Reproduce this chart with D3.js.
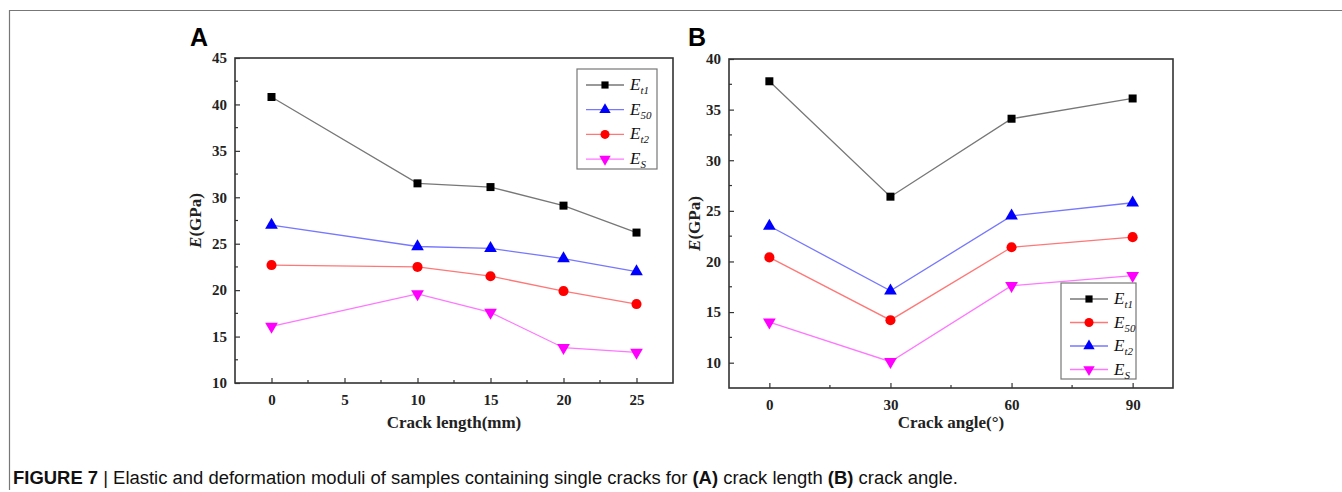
<!DOCTYPE html>
<html>
<head>
<meta charset="utf-8">
<script src="https://cdn.jsdelivr.net/npm/d3@7"></script>
<style>
  body { margin: 0; background: #fff; }
  svg { display: block; }
</style>
</head>
<body>
<script>
// panel A: crack length
var lengths = [0, 10, 15, 20, 25];
var aEt1 = [40.8, 31.5, 31.1, 29.1, 26.2];
var aE50 = [27.0, 24.7, 24.5, 23.4, 22.0];
var aEt2 = [22.7, 22.5, 21.5, 19.9, 18.5];
var aEs  = [16.1, 19.6, 17.6, 13.8, 13.3];
var lengthTicks = [0, 5, 10, 15, 20, 25];
var aYTicks = [10, 15, 20, 25, 30, 35, 40, 45];

// panel B: crack angle
var angles = [0, 30, 60, 90];
var bEt1 = [37.8, 26.4, 34.1, 36.1];
var bE50 = [20.4, 14.2, 21.4, 22.4];
var bEt2 = [23.5, 17.1, 24.5, 25.8];
var bEs  = [14.0, 10.1, 17.6, 18.6];
var angleTicks = [0, 30, 60, 90];
var bYTicks = [10, 15, 20, 25, 30, 35, 40];

var svg = d3.select("body").append("svg")
  .attr("width", 1342)
  .attr("height", 492);

// outer frame (top + left line)
svg.append("path")
  .attr("d", "M9.5,490 V10.5 H1342")
  .attr("fill", "none")
  .attr("stroke", "#777")
  .attr("stroke-width", 1.2);

var styles = {
  square: { sym: d3.symbolSquare, size: 64, rot: 0 },
  up:     { sym: d3.symbolTriangle, size: 70, rot: 0 },
  circle: { sym: d3.symbolCircle, size: 80, rot: 0 },
  down:   { sym: d3.symbolTriangle, size: 70, rot: 180 }
};

function drawPanel(opt) {
  var x = d3.scaleLinear().domain(opt.xDomain).range([opt.left, opt.right]);
  var y = d3.scaleLinear().domain(opt.yDomain).range([opt.bottom, opt.top]);
  var g = svg.append("g");

  // panel letter
  g.append("text")
    .attr("x", opt.letterX).attr("y", 46)
    .attr("font-family", "Liberation Sans, Arial, sans-serif")
    .attr("font-weight", "bold")
    .attr("font-size", 25)
    .text(opt.letter);

  // minor ticks
  var xMinor = d3.range(opt.xTicks.length - 1).map(function (i) {
    return (opt.xTicks[i] + opt.xTicks[i + 1]) / 2;
  });
  var yMinor = d3.range(opt.yTicks.length - 1).map(function (i) {
    return (opt.yTicks[i] + opt.yTicks[i + 1]) / 2;
  });
  g.selectAll(".xminor").data(xMinor).enter().append("line")
    .attr("x1", d => x(d)).attr("x2", d => x(d))
    .attr("y1", opt.bottom).attr("y2", opt.bottom - 3)
    .attr("stroke", "#333").attr("stroke-width", 1.2);
  g.selectAll(".yminor").data(yMinor).enter().append("line")
    .attr("x1", opt.left).attr("x2", opt.left + 3)
    .attr("y1", d => y(d)).attr("y2", d => y(d))
    .attr("stroke", "#333").attr("stroke-width", 1.2);

  // major ticks via d3 axes (inward)
  var xAxis = g.append("g")
    .attr("transform", "translate(0," + opt.bottom + ")")
    .call(d3.axisBottom(x).tickValues(opt.xTicks).tickSizeInner(-5).tickSizeOuter(0).tickPadding(11));
  var yAxis = g.append("g")
    .attr("transform", "translate(" + opt.left + ",0)")
    .call(d3.axisLeft(y).tickValues(opt.yTicks).tickSizeInner(-5).tickSizeOuter(0).tickPadding(8));
  [xAxis, yAxis].forEach(function (ax) {
    ax.select(".domain").remove();
    ax.selectAll(".tick line").attr("stroke", "#333").attr("stroke-width", 1.2);
    ax.selectAll(".tick text")
      .attr("font-family", "Liberation Serif, Times New Roman, serif")
      .attr("font-weight", "bold")
      .attr("font-size", 15)
      .attr("fill", "#222");
  });

  // frame
  g.append("rect")
    .attr("x", opt.left).attr("y", opt.top)
    .attr("width", opt.right - opt.left).attr("height", opt.bottom - opt.top)
    .attr("fill", "none").attr("stroke", "#333").attr("stroke-width", 1.6);

  // axis titles
  g.append("text")
    .attr("x", (opt.left + opt.right) / 2).attr("y", 428)
    .attr("text-anchor", "middle")
    .attr("font-family", "Liberation Serif, Times New Roman, serif")
    .attr("font-weight", "bold")
    .attr("font-size", 17)
    .attr("fill", "#222")
    .text(opt.xLabel);
  var yl = g.append("text")
    .attr("transform", "translate(" + opt.yLabelX + "," + ((opt.top + opt.bottom) / 2) + ") rotate(-90)")
    .attr("text-anchor", "middle")
    .attr("font-family", "Liberation Serif, Times New Roman, serif")
    .attr("font-weight", "bold")
    .attr("font-size", 17)
    .attr("fill", "#222");
  yl.append("tspan").attr("font-style", "italic").text("E");
  yl.append("tspan").text("(GPa)");

  // series
  var line = d3.line().x(d => x(d[0])).y(d => y(d[1]));
  opt.series.forEach(function (s) {
    var pts = opt.xs.map(function (v, i) { return [v, s.values[i]]; });
    g.append("path")
      .attr("d", line(pts))
      .attr("fill", "none")
      .attr("stroke", s.line)
      .attr("stroke-width", 1.3);
    var st = styles[s.marker];
    g.selectAll(null).data(pts).enter().append("path")
      .attr("d", d3.symbol().type(st.sym).size(st.size))
      .attr("transform", d => "translate(" + x(d[0]) + "," + y(d[1]) + ") rotate(" + st.rot + ")")
      .attr("fill", s.color);
  });

  // legend
  var lg = opt.legend;
  g.append("rect")
    .attr("x", lg.x).attr("y", lg.y)
    .attr("width", lg.w).attr("height", lg.h)
    .attr("fill", "#fff").attr("stroke", "#777").attr("stroke-width", 1.2);
  opt.series.forEach(function (s, i) {
    var cy = lg.y + 16 + i * lg.step;
    g.append("line")
      .attr("x1", lg.x + 9).attr("x2", lg.x + 47)
      .attr("y1", cy).attr("y2", cy)
      .attr("stroke", s.line).attr("stroke-width", 1.3);
    var st = styles[s.marker];
    g.append("path")
      .attr("d", d3.symbol().type(st.sym).size(st.size * 0.8))
      .attr("transform", "translate(" + (lg.x + 28) + "," + cy + ") rotate(" + st.rot + ")")
      .attr("fill", s.color);
    var t = g.append("text")
      .attr("x", lg.x + 53).attr("y", cy + 5)
      .attr("font-family", "Liberation Serif, Times New Roman, serif")
      .attr("font-style", "italic")
      .attr("font-size", 17)
      .attr("fill", "#111");
    t.append("tspan").text("E");
    t.append("tspan").attr("font-size", 11).attr("dy", 4).text(s.sub);
  });
}

drawPanel({
  letter: "A", letterX: 190,
  left: 235, right: 673, top: 58, bottom: 383,
  xDomain: [-2.5, 27.5], yDomain: [10, 45],
  xTicks: lengthTicks, yTicks: aYTicks,
  xLabel: "Crack length(mm)", yLabelX: 201,
  xs: lengths,
  series: [
    { sub: "t1", values: aEt1, color: "#000", line: "#777", marker: "square" },
    { sub: "50", values: aE50, color: "#0000ff", line: "#7777ff", marker: "up" },
    { sub: "t2", values: aEt2, color: "#ff0000", line: "#ff7777", marker: "circle" },
    { sub: "S",  values: aEs,  color: "#ff00ff", line: "#ff77ff", marker: "down" }
  ],
  legend: { x: 577, y: 69, w: 80, h: 100, step: 24.7 }
});

drawPanel({
  letter: "B", letterX: 688,
  left: 729, right: 1173, top: 59, bottom: 388,
  xDomain: [-10, 100], yDomain: [7.5, 40],
  xTicks: angleTicks, yTicks: bYTicks,
  xLabel: "Crack angle(°)", yLabelX: 700,
  xs: angles,
  series: [
    { sub: "t1", values: bEt1, color: "#000", line: "#777", marker: "square" },
    { sub: "50", values: bE50, color: "#ff0000", line: "#ff7777", marker: "circle" },
    { sub: "t2", values: bEt2, color: "#0000ff", line: "#7777ff", marker: "up" },
    { sub: "S",  values: bEs,  color: "#ff00ff", line: "#ff77ff", marker: "down" }
  ],
  legend: { x: 1061, y: 283, w: 75, h: 96, step: 23.5 }
});

// caption
var cap = svg.append("text")
  .attr("x", 13).attr("y", 484)
  .attr("font-family", "Liberation Sans, Arial, sans-serif")
  .attr("font-size", 18)
  .attr("fill", "#111")
  .attr("textLength", 945)
  .attr("lengthAdjust", "spacingAndGlyphs");
cap.append("tspan").attr("font-weight", "bold").text("FIGURE 7");
cap.append("tspan").text(" | Elastic and deformation moduli of samples containing single cracks for ");
cap.append("tspan").attr("font-weight", "bold").text("(A)");
cap.append("tspan").text(" crack length ");
cap.append("tspan").attr("font-weight", "bold").text("(B)");
cap.append("tspan").text(" crack angle.");
</script>
</body>
</html>
